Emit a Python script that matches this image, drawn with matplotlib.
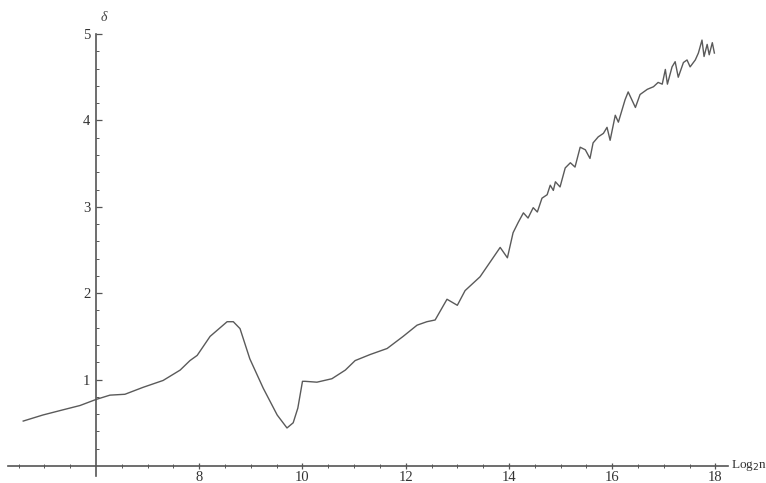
import matplotlib.pyplot as plt
from matplotlib.ticker import FixedLocator

# log2 n  vs  delta
log2n = [4.59, 4.97, 5.36, 5.69, 6.0, 6.27, 6.56, 6.91, 7.30, 7.63, 7.82, 7.96,
         8.21, 8.54, 8.66, 8.79, 8.98, 9.24, 9.51, 9.70, 9.82, 9.91, 10.0,
         10.05, 10.28, 10.57, 10.83, 11.02, 11.31, 11.64, 11.95, 12.22, 12.41,
         12.57, 12.80, 13.0, 13.15, 13.44, 13.83, 13.97, 14.08, 14.18, 14.28,
         14.37, 14.47, 14.55, 14.64, 14.74, 14.80, 14.86, 14.90, 14.99, 15.09,
         15.19, 15.28, 15.38, 15.48, 15.57, 15.63, 15.73, 15.83, 15.90, 15.96,
         16.06, 16.12, 16.25, 16.31, 16.45, 16.54, 16.68, 16.80, 16.89, 16.97,
         17.03, 17.07, 17.16, 17.22, 17.28, 17.38, 17.45, 17.51, 17.61, 17.67,
         17.74, 17.78, 17.84, 17.88, 17.94, 17.98]
delta = [0.52, 0.59, 0.65, 0.70, 0.77, 0.82, 0.83, 0.91, 0.99, 1.11, 1.22, 1.28,
         1.50, 1.67, 1.67, 1.59, 1.24, 0.90, 0.59, 0.44, 0.50, 0.67, 0.98,
         0.98, 0.97, 1.01, 1.11, 1.22, 1.29, 1.36, 1.50, 1.63, 1.67,
         1.69, 1.93, 1.86, 2.03, 2.19, 2.53, 2.41, 2.70, 2.82, 2.93,
         2.87, 2.99, 2.94, 3.10, 3.14, 3.25, 3.19, 3.29, 3.23, 3.45,
         3.51, 3.46, 3.69, 3.66, 3.56, 3.74, 3.81, 3.85, 3.92, 3.77,
         4.06, 3.98, 4.24, 4.33, 4.15, 4.30, 4.36, 4.39, 4.44, 4.42,
         4.59, 4.42, 4.62, 4.68, 4.50, 4.67, 4.70, 4.62, 4.70, 4.78,
         4.93, 4.74, 4.88, 4.76, 4.90, 4.78]

x_ticks = [8, 10, 12, 14, 16, 18]
y_ticks = [1, 2, 3, 4, 5]

plt.rcParams['font.family'] = 'Liberation Serif'
axis_col = '#555555'

fig = plt.figure(figsize=(7.66, 4.83), dpi=100)
ax = fig.add_axes([0, 0, 1, 1])
ax.plot(log2n, delta, color='#5a5a5a', linewidth=1.0)

ax.set_xlim(4.14, 18.98)
ax.set_ylim(-0.197, 5.394)

# axes cross at (6, 0) like a Mathematica plot
for s in ['top', 'right']:
    ax.spines[s].set_visible(False)
ax.spines['left'].set_position(('data', 6))
ax.spines['bottom'].set_position(('data', 0))
ax.spines['left'].set_bounds(-0.12, 5.0)
ax.spines['bottom'].set_bounds(4.29, 18.25)
for s in ['left', 'bottom']:
    ax.spines[s].set_color(axis_col)
    ax.spines[s].set_linewidth(1.2)

ax.xaxis.set_major_locator(FixedLocator(x_ticks))
ax.xaxis.set_minor_locator(FixedLocator([4.5 + 0.5 * i for i in range(28)
                                         if (4.5 + 0.5 * i) % 2 != 0]))
ax.yaxis.set_major_locator(FixedLocator(y_ticks))
ax.yaxis.set_minor_locator(FixedLocator([0.2 * i for i in range(1, 25) if i % 5 != 0]))

ax.tick_params(axis='x', which='major', direction='inout', length=5, width=0.9,
               color=axis_col, labelsize=10.5, pad=1)
ax.tick_params(axis='x', which='minor', direction='inout', length=3, width=0.7,
               color=axis_col)
ax.tick_params(axis='y', which='major', direction='in', length=4, width=0.9,
               color=axis_col, labelsize=10.5, pad=4)
ax.tick_params(axis='y', which='minor', direction='in', length=2.5, width=0.7,
               color=axis_col)
ax.set_xticklabels([str(t) for t in x_ticks], color='#333333')
ax.set_yticklabels([str(t) for t in y_ticks], color='#333333')

ax.text(6.15, 5.19, 'δ', fontsize=10, style='italic', color='#444444',
        ha='center', va='center')
ax.text(18.30, 0.0, 'Log$_2$n', fontsize=9.5, color='#333333',
        ha='left', va='center')

fig.savefig('out.png', dpi=100)
